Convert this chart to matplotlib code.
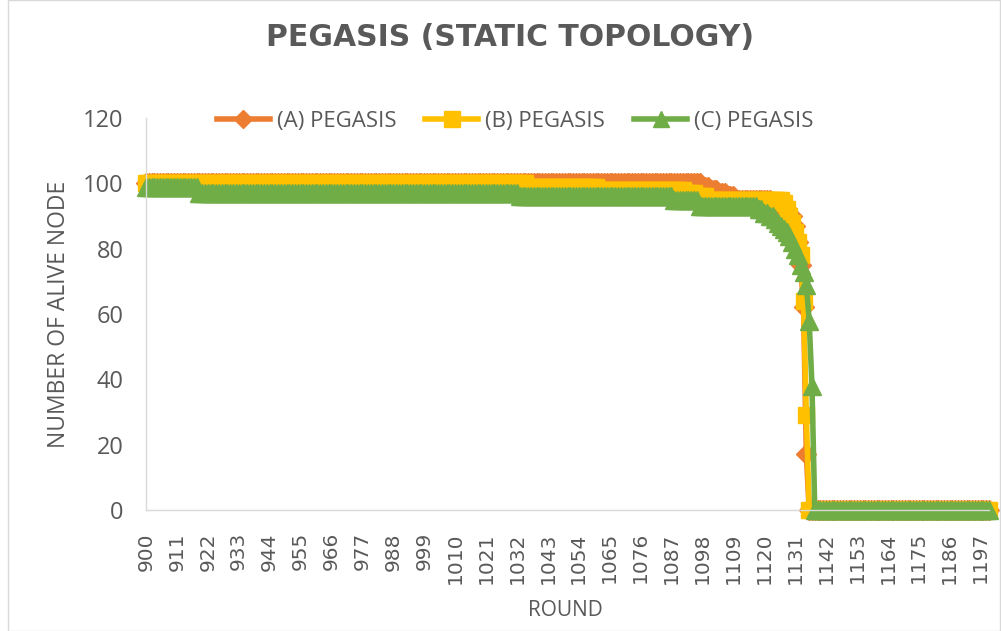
import numpy as np
import matplotlib
matplotlib.use("Agg")
import matplotlib.pyplot as plt
from matplotlib.lines import Line2D

plt.rcParams['font.family'] = ['Open Sans', 'DejaVu Sans']

# rounds shown on the category axis
rounds = np.arange(900, 1201)
tick_rounds = np.arange(900, 1201, 11)

a_steps = [(900, 100), (1098, 99), (1101, 98), (1104, 97), (1107, 96), (1110, 95),
           (1123, 94), (1125, 93), (1127, 92), (1129, 90), (1131, 87), (1132, 82),
           (1133, 75), (1134, 62), (1135, 17), (1136, 0)]
b_steps = [(900, 100), (1036, 99), (1061, 98), (1092, 97), (1096, 96), (1100, 95),
           (1127, 94), (1128, 92), (1129, 90), (1130, 88), (1131, 85), (1132, 82),
           (1133, 78), (1134, 64), (1135, 29), (1136, 0)]
c_steps = [(900, 99), (919, 97), (1033, 96), (1088, 95), (1097, 93), (1118, 92),
           (1120, 91), (1122, 90), (1124, 89), (1125, 88), (1126, 87), (1127, 86),
           (1128, 85), (1129, 84), (1130, 82), (1131, 80), (1132, 78), (1133, 75),
           (1134, 73), (1135, 69), (1136, 58), (1137, 38), (1138, 0)]

labels = ["(A) PEGASIS", "(B) PEGASIS", "(C) PEGASIS"]
colors = ["#ED7D31", "#FFC000", "#70AD47"]
markers = ["D", "s", "^"]
msizes = [10, 12, 13]

def expand(steps):
    starts = np.array([s[0] for s in steps])
    vals = np.array([s[1] for s in steps])
    idx = np.searchsorted(starts, rounds, side='right') - 1
    return vals[idx]

series = [expand(a_steps), expand(b_steps), expand(c_steps)]

grey = "#595959"
fig = plt.figure(figsize=(10.01, 6.31), dpi=100)
ax = fig.add_axes([146/1001, 1 - 510/631, (989 - 146)/1001, (510 - 118)/631])

for y, lab, col, mk, ms in zip(series, labels, colors, markers, msizes):
    ax.plot(rounds, y, color=col, lw=4, marker=mk, ms=ms, mec=col, mfc=col,
            label=lab, clip_on=False, solid_joinstyle='miter')

ax.set_xlim(900, 1200)
ax.set_ylim(0, 120)
ax.set_yticks(np.arange(0, 121, 20))
ax.set_xticks(tick_rounds)
ax.set_xticklabels([str(t) for t in tick_rounds], rotation=90,
                   family=['DejaVu Sans'])
ax.tick_params(axis='y', length=0, pad=16, labelsize=17, labelcolor=grey)
ax.tick_params(axis='x', length=0, pad=16, labelsize=14.5, labelcolor=grey)
for s in ['top', 'right']:
    ax.spines[s].set_visible(False)
for s in ['left', 'bottom']:
    ax.spines[s].set_color("#D9D9D9")
    ax.spines[s].set_linewidth(1)

ax.set_ylabel("NUMBER OF ALIVE NODE", fontsize=16.5, color=grey)
ax.yaxis.set_label_coords((71 - 146) / (989 - 146), 0.5)
ax.set_xlabel("ROUND", fontsize=15, color=grey)
ax.xaxis.set_label_coords((565 - 146) / (989 - 146), -(600 - 510) / (510 - 118))

handles = [Line2D([], [], color=c, lw=4, marker=m, ms=s - 1, mec=c, mfc=c)
           for c, m, s in zip(colors, markers, msizes)]
leg = fig.legend(handles, labels, loc='center', bbox_to_anchor=(515/1001, 1 - 121/631),
                 ncol=3, frameon=False, fontsize=16, handlelength=2.4,
                 columnspacing=1.3, handletextpad=0.3)
for t in leg.get_texts():
    t.set_color(grey)

fig.text(510/1001, 1 - 38/631, "PEGASIS (STATIC TOPOLOGY)", ha='center', va='center',
         fontsize=21.5, fontweight='bold', color=grey, family=['DejaVu Sans'])

fig.add_artist(plt.Rectangle((8/1001, 0), 992/1001, 1, transform=fig.transFigure,
                             fill=False, ec="#D9D9D9", lw=1))

fig.savefig("out.png", dpi=100)
